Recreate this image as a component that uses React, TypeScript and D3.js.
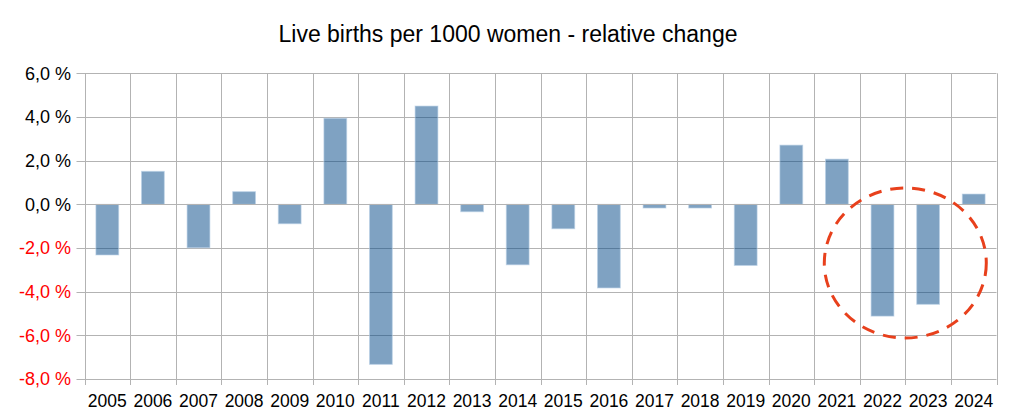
import React from "react";
import * as d3 from "d3";

const years = ["2005","2006","2007","2008","2009","2010","2011","2012","2013","2014","2015","2016","2017","2018","2019","2020","2021","2022","2023","2024"];
const changes = [-2.32,1.51,-1.99,0.58,-0.89,3.94,-7.33,4.5,-0.34,-2.77,-1.12,-3.83,-0.17,-0.17,-2.8,2.71,2.07,-5.12,-4.58,0.47];
const yTicks = [6,4,2,0,-2,-4,-6,-8];
const title = "Live births per 1000 women - relative change";
const highlightYears = ["2022","2023"];

const W = 1016, H = 420;
const left = 84.5, right = 996.5, top = 73.3, bottom = 379;

export default function App() {
  const x = d3.scaleBand<string>().domain(years).range([left, right]).paddingInner(0).paddingOuter(0);
  const y = d3.scaleLinear().domain([-8, 6]).range([bottom, top]);
  const bw = x.bandwidth() * 0.5;
  const fmt = (v: number) => d3.format(".1f")(v).replace(".", ",").replace("−", "-") + " %";
  const y0 = y(0);
  const hx0 = x(highlightYears[0])!;
  const hx1 = x(highlightYears[1])! + x.bandwidth();
  const cx = (hx0 + hx1) / 2;
  return (
    <svg width={W} height={H} style={{ position: "absolute", left: 0, top: 0, fontFamily: "'Liberation Sans', Arial, sans-serif" }}>
      <rect width={W} height={H} fill="#fff" />
      <text x={508} y={42} textAnchor="middle" fontSize={23} fill="#000">{title}</text>
      {yTicks.map(t => (
        <g key={t}>
          <line x1={left - 8} x2={right} y1={Math.round(y(t)) + 0.5} y2={Math.round(y(t)) + 0.5} stroke="#b3b3b3" strokeWidth={1} />
          <text x={71} y={y(t)} dy="0.36em" textAnchor="end" fontSize={18} fill={t < 0 ? "#ff0000" : "#000"}>{fmt(t)}</text>
        </g>
      ))}
      {years.map((yr) => (
        <line key={yr} x1={Math.round(x(yr)!) + 0.5} x2={Math.round(x(yr)!) + 0.5} y1={top} y2={bottom + 6} stroke="#b3b3b3" strokeWidth={1} />
      ))}
      <line x1={Math.round(right) + 0.5} x2={Math.round(right) + 0.5} y1={top} y2={bottom + 6} stroke="#b3b3b3" strokeWidth={1} />
      {years.map(yr => (
        <line key={"t" + yr} x1={Math.round(x(yr)!) + 0.5} x2={Math.round(x(yr)!) + 0.5} y1={y0} y2={y0 + 7} stroke="#b3b3b3" strokeWidth={1} />
      ))}
      {years.map((yr, i) => {
        const v = changes[i];
        const bx = x(yr)! + (x.bandwidth() - bw) / 2;
        const yt = Math.min(y(v), y0), yb = Math.max(y(v), y0);
        return <rect key={"b" + yr} x={bx} y={yt} width={bw} height={yb - yt} fill="#004586" fillOpacity={0.5} stroke="#b9d0e6" strokeWidth={1} strokeOpacity={0.6} />;
      })}
      <line x1={left} x2={right} y1={Math.round(y0) + 0.5} y2={Math.round(y0) + 0.5} stroke="#b3b3b3" strokeWidth={1} />
      {years.map(yr => (
        <text key={"l" + yr} x={x(yr)! + x.bandwidth() / 2} y={407} textAnchor="middle" fontSize={17.5} fill="#000">{yr}</text>
      ))}
      <ellipse cx={cx} cy={263} rx={81} ry={75} fill="none" stroke="#e8401c" strokeWidth={3} strokeDasharray="13 9" />
    </svg>
  );
}
